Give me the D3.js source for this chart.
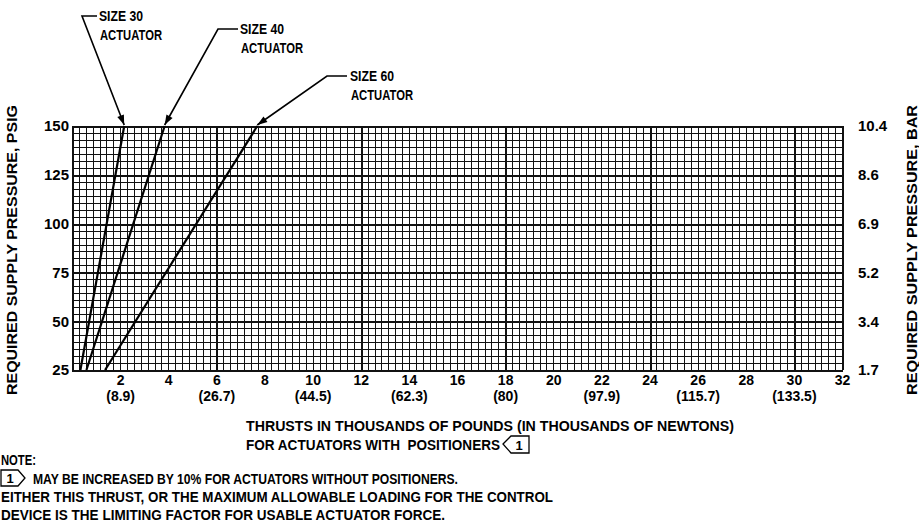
<!DOCTYPE html>
<html><head><meta charset="utf-8">
<script src="https://cdn.jsdelivr.net/npm/d3@7"></script>
<style>
html,body{margin:0;padding:0;background:#fff;}
svg{display:block;}
text{font-family:"Liberation Sans",Arial,Helvetica,sans-serif;font-weight:bold;fill:#000;}
</style></head>
<body><svg id="c" width="919" height="526"></svg>
<script>
// ---- data ----
const actuators = ["SIZE 30", "SIZE 40", "SIZE 60"];
const pressurePoints = [25, 150];              // psig
const thrustAtLow = [0.35, 0.6, 1.375];        // thousand lbf at 25 psig
const thrustAtHigh = [2.17, 3.85, 7.7];        // thousand lbf at 150 psig
const xTicks = [2,4,6,8,10,12,14,16,18,20,22,24,26,28,30,32];
const newtonTicks = [2,6,10,14,18,22,26,30];
const newtonLabels = ["(8.9)","(26.7)","(44.5)","(62.3)","(80)","(97.9)","(115.7)","(133.5)"];
const psiTicks = [25,50,75,100,125,150];
const barLabels = ["1.7","3.4","5.2","6.9","8.6","10.4"];

// ---- layout ----
const svg = d3.select("#c");
svg.append("rect").attr("width",919).attr("height",526).attr("fill","#fff");
const L = 72, R = 842, T = 126, B = 370;
const x = d3.scaleLinear().domain([0,32]).range([L,R]);
const y = d3.scaleLinear().domain([25,150]).range([B,T]);

// grid
const g = svg.append("g").attr("shape-rendering","crispEdges");
const nx = 16*7, ny = 5*7;
for (let i=0;i<=nx;i++){
  const v = i*32/nx;
  const heavy = (i % 21 === 0) || i===nx;
  g.append("line").attr("x1",Math.round(x(v))+0.5).attr("x2",Math.round(x(v))+0.5).attr("y1",T).attr("y2",B)
   .attr("stroke","#111").attr("stroke-width",heavy?2:1);
}
for (let j=0;j<=ny;j++){
  const v = 25 + j*125/ny;
  const heavy = j%7===0;
  g.append("line").attr("x1",L).attr("x2",R+1).attr("y1",Math.round(y(v))+0.5).attr("y2",Math.round(y(v))+0.5)
   .attr("stroke","#111").attr("stroke-width",heavy?2:1);
}

// axes labels
const xa = d3.axisBottom(x).tickValues(xTicks).tickSize(0).tickPadding(0).tickFormat(d3.format("d"));
const xg = svg.append("g").attr("transform",`translate(0,${B})`).call(xa);
xg.select(".domain").remove();
xg.selectAll("text").attr("font-size",14).attr("font-family",null).attr("y",15).attr("dy",null);

const nScale = d3.scaleOrdinal().domain(newtonTicks).range(newtonLabels);
const xn = d3.axisBottom(x).tickValues(newtonTicks).tickSize(0).tickPadding(0).tickFormat(d=>nScale(d));
const xng = svg.append("g").attr("transform",`translate(0,${B})`).call(xn);
xng.select(".domain").remove();
xng.selectAll("text").attr("font-size",14).attr("font-family",null).attr("y",31).attr("dy",null);

const ya = d3.axisLeft(y).tickValues(psiTicks).tickSize(0).tickPadding(3);
const yg = svg.append("g").attr("transform",`translate(${L},0)`).call(ya);
yg.select(".domain").remove();
yg.selectAll("text").attr("font-size",15).attr("font-family",null);

const barScale = d3.scaleOrdinal().domain(psiTicks).range(barLabels);
const yb = d3.axisRight(y).tickValues(psiTicks).tickSize(0).tickPadding(16).tickFormat(d=>barScale(d));
const ybg = svg.append("g").attr("transform",`translate(${R},0)`).call(yb);
ybg.select(".domain").remove();
ybg.selectAll("text").attr("font-size",15).attr("font-family",null);

// axis titles
svg.append("text").attr("transform","translate(17,250) rotate(-90)").attr("text-anchor","middle")
  .attr("font-size",14).attr("textLength",290).attr("lengthAdjust","spacingAndGlyphs")
  .text("REQUIRED SUPPLY PRESSURE, PSIG");
svg.append("text").attr("transform","translate(917,250) rotate(-90)").attr("text-anchor","middle")
  .attr("font-size",14).attr("textLength",290).attr("lengthAdjust","spacingAndGlyphs")
  .text("REQUIRED SUPPLY PRESSURE, BAR");

// data lines
const line = d3.line().x(d=>x(d[0])).y(d=>y(d[1]));
actuators.forEach((a,i)=>{
  const pts = [[thrustAtLow[i], pressurePoints[0]],[thrustAtHigh[i], pressurePoints[1]]];
  svg.append("path").attr("d",line(pts)).attr("fill","none").attr("stroke","#000").attr("stroke-width",2.2);
});

// annotations
const ann = [
  {elbow:[82,16], end:[97,16], tx:99, ty:21},
  {elbow:[218,29], end:[238,29], tx:240, ty:34},
  {elbow:[327,76], end:[347,76], tx:350, ty:81}
];
actuators.forEach((a,i)=>{
  const A = ann[i];
  const tip = [x(thrustAtHigh[i]), y(150)-1];
  svg.append("polyline").attr("points",[A.end,A.elbow,tip].map(p=>p.join(",")).join(" "))
    .attr("fill","none").attr("stroke","#000").attr("stroke-width",1.6);
  const ang = Math.atan2(tip[1]-A.elbow[1], tip[0]-A.elbow[0]);
  const len=10, w=3.5;
  const bx = tip[0]-len*Math.cos(ang), by = tip[1]-len*Math.sin(ang);
  const p1=[bx+w*Math.sin(ang), by-w*Math.cos(ang)], p2=[bx-w*Math.sin(ang), by+w*Math.cos(ang)];
  svg.append("path").attr("d",`M${tip}L${p1}L${p2}Z`).attr("fill","#000");
  svg.append("text").attr("x",A.tx).attr("y",A.ty).attr("font-size",14).attr("textLength",44).attr("lengthAdjust","spacingAndGlyphs").text(a);
  svg.append("text").attr("x",A.tx+1).attr("y",A.ty+19).attr("font-size",14).attr("textLength",62).attr("lengthAdjust","spacingAndGlyphs").text("ACTUATOR");
});

// bottom titles
svg.append("text").attr("x",246).attr("y",431).attr("font-size",14).attr("textLength",488).attr("lengthAdjust","spacingAndGlyphs")
  .text("THRUSTS IN THOUSANDS OF POUNDS (IN THOUSANDS OF NEWTONS)");
svg.append("text").attr("x",246).attr("y",450).attr("font-size",14).attr("textLength",254).attr("lengthAdjust","spacingAndGlyphs")
  .style("white-space","pre").text("FOR ACTUATORS WITH  POSITIONERS");
// left-pointing flag
const fx=503, fy=436;
svg.append("path").attr("d",`M${fx},${fy+8}L${fx+8},${fy}L${fx+26},${fy}L${fx+26},${fy+17}L${fx+8},${fy+17}Z`)
  .attr("fill","none").attr("stroke","#000").attr("stroke-width",1.3);
svg.append("text").attr("x",fx+16).attr("y",fy+14).attr("text-anchor","middle").attr("font-size",13).text("1");

// notes
svg.append("text").attr("x",1).attr("y",465).attr("font-size",14).attr("textLength",35).attr("lengthAdjust","spacingAndGlyphs").text("NOTE:");
const nfx=1, nfy=470;
svg.append("path").attr("d",`M${nfx},${nfy}L${nfx+17},${nfy}L${nfx+24},${nfy+8}L${nfx+17},${nfy+16}L${nfx},${nfy+16}Z`)
  .attr("fill","none").attr("stroke","#000").attr("stroke-width",1.3);
svg.append("text").attr("x",nfx+9).attr("y",nfy+13).attr("text-anchor","middle").attr("font-size",13).text("1");
svg.append("text").attr("x",33).attr("y",484).attr("font-size",14).attr("textLength",425).attr("lengthAdjust","spacingAndGlyphs")
  .text("MAY BE INCREASED BY 10% FOR ACTUATORS WITHOUT POSITIONERS.");
svg.append("text").attr("x",1).attr("y",502).attr("font-size",14).attr("textLength",552).attr("lengthAdjust","spacingAndGlyphs")
  .text("EITHER THIS THRUST, OR THE MAXIMUM ALLOWABLE LOADING FOR THE CONTROL");
svg.append("text").attr("x",1).attr("y",520).attr("font-size",14).attr("textLength",444).attr("lengthAdjust","spacingAndGlyphs")
  .text("DEVICE IS THE LIMITING FACTOR FOR USABLE ACTUATOR FORCE.");
</script></body></html>
